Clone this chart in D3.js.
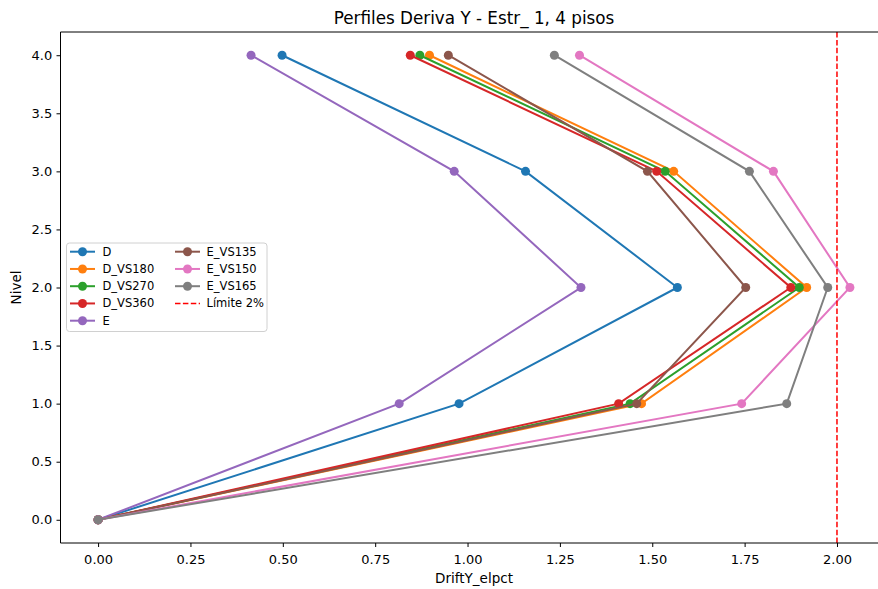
<!DOCTYPE html>
<html><head><meta charset="utf-8">
<script src="https://cdn.jsdelivr.net/npm/d3@7"></script>
<style>body{margin:0;background:#fff}svg{display:block;font-family:"DejaVu Sans",sans-serif}</style>
</head><body><svg id="c" width="878" height="589"></svg>
<script>
const levels = [0, 1, 2, 3, 4];
const seriesNames = ["D","D_VS180","D_VS270","D_VS360","E","E_VS135","E_VS150","E_VS165"];
const D       = [0, 0.977, 1.568, 1.157, 0.498];
const D_VS180 = [0, 1.471, 1.918, 1.558, 0.897];
const D_VS270 = [0, 1.440, 1.898, 1.535, 0.871];
const D_VS360 = [0, 1.409, 1.875, 1.512, 0.845];
const E       = [0, 0.815, 1.307, 0.964, 0.414];
const E_VS135 = [0, 1.458, 1.753, 1.487, 0.948];
const E_VS150 = [0, 1.742, 2.035, 1.828, 1.303];
const E_VS165 = [0, 1.864, 1.975, 1.763, 1.235];
const colors = ["#1f77b4","#ff7f0e","#2ca02c","#d62728","#9467bd","#8c564b","#e377c2","#7f7f7f"];
const limit = 2.0;
const xTicks = [0,0.25,0.5,0.75,1.0,1.25,1.5,1.75,2.0];
const yTicks = [0,0.5,1,1.5,2,2.5,3,3.5,4];
const title = "Perfiles Deriva Y - Estr_ 1, 4 pisos";
const xLabel = "DriftY_elpct";
const yLabel = "Nivel";
const limitLabel = "Límite 2%";

const allValues = [D,D_VS180,D_VS270,D_VS360,E,E_VS135,E_VS150,E_VS165];
const series = seriesNames.map((n,i)=>({name:n,color:colors[i],pts:levels.map((l,j)=>({x:allValues[i][j],y:l}))}));

const L=60.5, R=887.5, T=32, B=543;
const xmax = d3.max(allValues.flat());
const pad = xmax*0.05;
const x = d3.scaleLinear().domain([-pad, xmax+pad]).range([L,R]);
const y = d3.scaleLinear().domain([-0.2,4.2]).range([B,T]);
const svg = d3.select("#c");

const plot = svg.append("g");
const line = d3.line().x(d=>x(d.x)).y(d=>y(d.y));
series.forEach(s=>{
  plot.append("path").attr("d",line(s.pts)).attr("fill","none").attr("stroke",s.color).attr("stroke-width",2);
  plot.selectAll(null).data(s.pts).enter().append("circle")
    .attr("cx",d=>x(d.x)).attr("cy",d=>y(d.y)).attr("r",4.5).attr("fill",s.color);
});
plot.append("line").attr("x1",x(limit)).attr("x2",x(limit)).attr("y1",T).attr("y2",B)
  .attr("stroke","#ff0000").attr("stroke-width",1.5).attr("stroke-dasharray","5.5,2.4");

// axes
const xa = svg.append("g").attr("transform",`translate(0,${B})`)
  .call(d3.axisBottom(x).tickValues(xTicks).tickFormat(d3.format(".2f")).tickSize(4).tickSizeOuter(0));
const ya = svg.append("g").attr("transform",`translate(${L},0)`)
  .call(d3.axisLeft(y).tickValues(yTicks).tickFormat(d3.format(".1f")).tickSize(4).tickSizeOuter(0));
[xa,ya].forEach(a=>{
  a.selectAll("text").attr("font-size",13).attr("fill","#000").attr("font-family","DejaVu Sans");
  a.selectAll("line").attr("stroke","#000");
  a.select(".domain").remove();
});
xa.selectAll("text").attr("dy","1.1em");
ya.selectAll("text").attr("dx","-0.1em");
// spines
svg.append("line").attr("x1",L).attr("x2",L).attr("y1",T).attr("y2",B).attr("stroke","#000").attr("stroke-width",1);
svg.append("line").attr("x1",L).attr("x2",878).attr("y1",B).attr("y2",B).attr("stroke","#000").attr("stroke-width",1);
svg.append("line").attr("x1",L).attr("x2",878).attr("y1",T).attr("y2",T).attr("stroke","#000").attr("stroke-width",1);

svg.append("text").attr("x",(L+R)/2).attr("y",24).attr("text-anchor","middle").attr("font-size",16.8).text(title);
svg.append("text").attr("x",(L+R)/2).attr("y",583).attr("text-anchor","middle").attr("font-size",13.5).text(xLabel);
svg.append("text").attr("transform",`translate(21,${(T+B)/2}) rotate(-90)`).attr("text-anchor","middle").attr("font-size",13.5).text(yLabel);

// legend
const lg = svg.append("g");
lg.append("rect").attr("x",66.5).attr("y",243).attr("width",200.5).attr("height",88.5).attr("rx",3)
  .attr("fill","#fff").attr("fill-opacity",0.8).attr("stroke","#d0d0d0").attr("stroke-width",1);
const items = series.map(s=>({name:s.name,color:s.color,type:"marker"})).concat([{name:limitLabel,color:"#ff0000",type:"dash"}]);
const col1 = items.slice(0,5), col2 = items.slice(5);
function drawCol(arr,hx,tx){
  arr.forEach((it,i)=>{
    const yy = 251.7 + i*17.25;
    if(it.type==="marker"){
      lg.append("line").attr("x1",hx).attr("x2",hx+25).attr("y1",yy).attr("y2",yy).attr("stroke",it.color).attr("stroke-width",2);
      lg.append("circle").attr("cx",hx+12.5).attr("cy",yy).attr("r",4.5).attr("fill",it.color);
    } else {
      lg.append("line").attr("x1",hx).attr("x2",hx+25).attr("y1",yy).attr("y2",yy).attr("stroke",it.color).attr("stroke-width",1.5).attr("stroke-dasharray","5.5,2.4");
    }
    lg.append("text").attr("x",tx).attr("y",yy+4).attr("font-size",11.5).text(it.name);
  });
}
drawCol(col1,70,102.5);
drawCol(col2,175,206.5);
</script></body></html>
